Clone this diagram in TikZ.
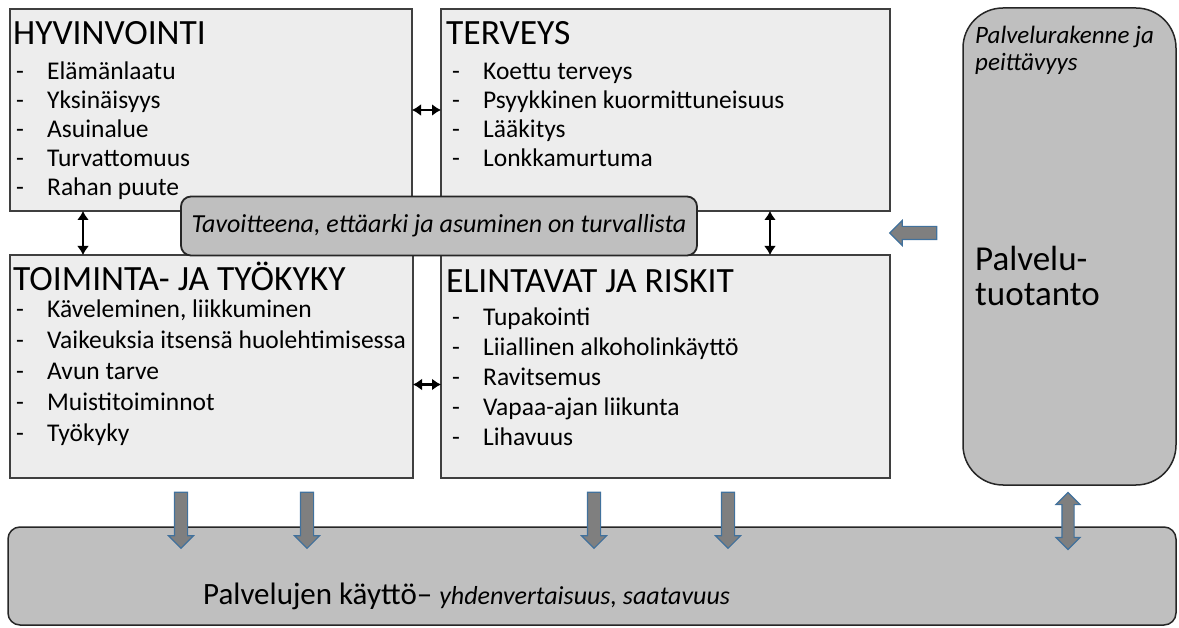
\documentclass[tikz,border=0pt]{standalone}
\usepackage{fontspec}
\setmainfont{Carlito}
\usepackage{tikz}
\usetikzlibrary{arrows.meta, positioning, shapes.arrows}
\definecolor{boxfill}{HTML}{EDEDED}
\definecolor{boxline}{HTML}{3F3F3F}
\definecolor{grayfill}{HTML}{BFBFBF}
\definecolor{grayline}{HTML}{262626}
\definecolor{arrowfill}{HTML}{7F7F7F}
\definecolor{arrowline}{HTML}{41719C}
\tikzset{>={Latex[length=9pt,width=12pt]}}
\tikzset{
  areabox/.style = {draw=boxline, fill=boxfill, line width=1.3pt, inner sep=0pt, outer sep=0pt, anchor=north west},
  graybox/.style = {draw=grayline, fill=grayfill, line width=1.8pt, inner sep=0pt, outer sep=0pt},
  heading/.style = {font=\fontsize{35.5}{38}\selectfont, inner sep=0pt, anchor=base west},
  item/.style = {font=\fontsize{25.5}{29}\selectfont, inner sep=0pt, anchor=base west},
  flowdown/.style = {single arrow, draw=arrowline, fill=arrowfill, line width=1.1pt,
    minimum height=56pt, inner xsep=0pt, inner ysep=6pt, single arrow head extend=6pt, rotate=-90},
  link/.style = {<->, line width=2.6pt}
}
\newcommand{\dashitem}[1]{\makebox[31pt][l]{-}#1}

\begin{document}
\begin{tikzpicture}[x=1pt, y=-1pt]
  \useasboundingbox (0,0) rectangle (1179,628);
  % four areas
  \node (hyv) [areabox, minimum width=402pt, minimum height=202pt] at (10,9) {};
  \node (ter) [areabox, minimum width=449pt, minimum height=202pt] at (441,9) {};
  \node (toim) [areabox, minimum width=403pt, minimum height=223pt] at (10,255) {};
  \node (elin) [areabox, minimum width=449pt, minimum height=223pt] at (441,255) {};

  \node (hyvtitle) [heading] at ([shift={(3pt,-36pt)}]hyv.north west) {HYVINVOINTI};
  \node (tertitle) [heading] at ([shift={(5pt,-36pt)}]ter.north west) {TERVEYS};
  \node (toimtitle) [heading] at ([shift={(3pt,-36pt)}]toim.north west) {TOIMINTA- JA TYÖKYKY};
  \node (elintitle) [heading] at ([shift={(5pt,-38pt)}]elin.north west) {ELINTAVAT JA RISKIT};

  \foreach \t [count=\i from 0] in {Elämänlaatu, Yksinäisyys, Asuinalue, Turvattomuus, Rahan puute}
    \node (hyv-\i) [item] at ([shift={(6pt,{-71pt-29pt*\i})}]hyv.north west) {\dashitem{\t}};
  \foreach \t [count=\i from 0] in {Koettu terveys, Psyykkinen kuormittuneisuus, Lääkitys, Lonkkamurtuma}
    \node (ter-\i) [item] at ([shift={(11pt,{-71pt-29pt*\i})}]ter.north west) {\dashitem{\t}};
  \foreach \t [count=\i from 0] in {{Käveleminen, liikkuminen}, Vaikeuksia itsensä huolehtimisessa, Avun tarve, Muistitoiminnot, Työkyky}
    \node (toim-\i) [item] at ([shift={(6pt,{-63pt-31pt*\i})}]toim.north west) {\dashitem{\t}};
  \foreach \t [count=\i from 0] in {Tupakointi, Liiallinen alkoholinkäyttö, Ravitsemus, Vapaa-ajan liikunta, Lihavuus}
    \node (elin-\i) [item] at ([shift={(11pt,{-71pt-30pt*\i})}]elin.north west) {\dashitem{\t}};

  % links between areas
  \draw[link] (hyv.east) -- (ter.west);
  \draw[link] ([yshift=-18pt]toim.east) -- ([yshift=-18pt]elin.west);
  \draw[link] ([xshift=73pt]hyv.south west) -- ([xshift=73pt]toim.north west);
  \draw[link] ([xshift=-120pt]ter.south east) -- ([xshift=-120pt]elin.north east);

  % goal
  \node (goal) [graybox, rounded corners=10pt, minimum width=516pt, minimum height=59pt,
    font=\itshape\fontsize{26}{29}\selectfont] at (439,226) {Tavoitteena, ettäarki ja asuminen on turvallista};

  % services
  \node (prod) [graybox, line width=1.5pt, rounded corners=40pt, minimum width=213pt, minimum height=477pt,
    anchor=north west] at (963,8) {};
  \node (prodnote) [inner sep=0pt, anchor=north west, align=left, font=\itshape\fontsize{25}{27}\selectfont]
    at ([shift={(12pt,-18pt)}]prod.north west) {Palvelurakenne ja\\peittävyys};
  \node (prodname) [inner sep=0pt, anchor=north west, align=left, font=\fontsize{35}{35}\selectfont]
    at ([shift={(12pt,-238pt)}]prod.north west) {Palvelu-\\tuotanto};

  \node (use) [graybox, line width=1.5pt, rounded corners=12pt, minimum width=1168pt, minimum height=98pt,
    anchor=north west] at (8,527) {};
  \node (usetext) [inner sep=0pt, anchor=base west, font=\fontsize{31}{35}\selectfont]
    at ([shift={(195pt,-77pt)}]use.north west) {Palvelujen käyttö– {\itshape\fontsize{26}{29}\selectfont yhdenvertaisuus, saatavuus}};

  % block arrows
  \foreach \x [count=\i] in {181, 307, 594, 728}
    \node (down-\i) [flowdown] at (\x,517) {};
  \node (toleft) [flowdown, rotate=-90, minimum height=47pt] at (916.5,233) {};
  \node (both) [double arrow, draw=arrowline, fill=arrowfill, line width=1.1pt, minimum height=57pt,
    inner xsep=0pt, inner ysep=5.5pt, double arrow head extend=6pt, rotate=90] at (1068,521) {};
\end{tikzpicture}
\end{document}
